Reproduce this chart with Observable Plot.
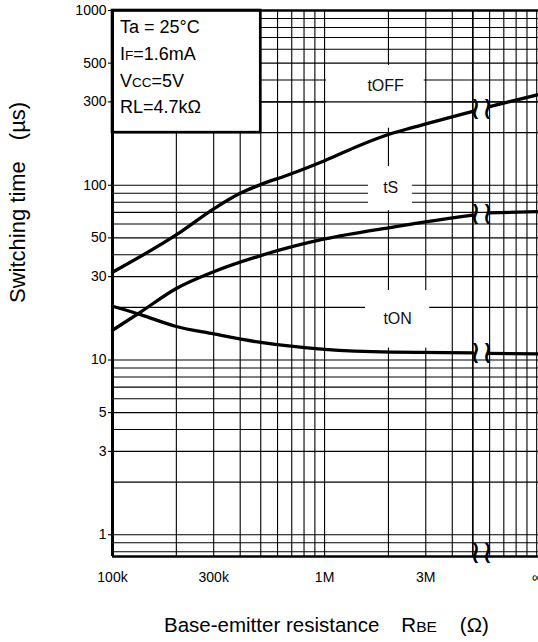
<!DOCTYPE html>
<html><head><meta charset="utf-8">
<script src="https://cdn.jsdelivr.net/npm/d3@7"></script>
<script src="https://cdn.jsdelivr.net/npm/@observablehq/plot@0.6"></script>
<style>
html,body{margin:0;padding:0;background:#fff;overflow:hidden}
svg{display:block}
</style></head><body><div id="chart"></div>
<script>
const FONT = "'Liberation Sans', Arial, Helvetica, sans-serif";

// axis ticks
const xTickValues = [1e5, 3e5, 1e6, 3e6, 1e7];
const xTickLabels = ["100k", "300k", "1M", "3M", "∞"];
const yTickValues = [1, 3, 5, 10, 30, 50, 100, 300, 500, 1000];

// grid
const xGrid = [2e5, 3e5, 4e5, 5e5, 6e5, 7e5, 8e5, 9e5, 1e6, 2e6, 3e6, 4e6, 6e6, 7e6, 8e6, 9e6, 1e7];
const xBreak = 5e6;
const yGrid = [0.8, 0.9, 1, 2, 3, 4, 5, 6, 7, 8, 9, 10, 20, 30, 40, 50, 60, 70, 80, 90, 100, 200, 300, 400, 500, 600, 700, 800, 900];

// series (RBE in ohm, switching time in µs)
const seriesNames = ["tOFF", "tS", "tON"];
const tOffLeftX = [1e5, 2.09e5, 3e5, 4e5, 5e5, 6.67e5, 1e6, 1.48e6, 2.05e6, 2.64e6, 5e6];
const tOffLeftY = [31.8, 53.9, 73.3, 90, 101, 114, 138, 170, 197, 215, 265];
const tOffRightX = [5.95e6, 7.54e6, 1.02e7];
const tOffRightY = [281, 302, 330];

const tSLeftX = [1e5, 1.356e5, 1.98e5, 3e5, 5e5, 1e6, 2.07e6, 5e6];
const tSLeftY = [14.8, 18.8, 25.5, 32, 39.6, 49.3, 57.5, 67.4];
const tSRightX = [5.95e6, 1.02e7];
const tSRightY = [69.5, 70.7];

const tOnLeftX = [1e5, 1.356e5, 1.98e5, 3e5, 5e5, 1e6, 2.07e6, 5e6];
const tOnLeftY = [20.3, 18.2, 15.6, 14.1, 12.6, 11.5, 11.1, 11.0];
const tOnRightX = [5.95e6, 1.02e7];
const tOnRightY = [10.9, 10.85];

// series label anchors (data units)
const labelX = [1.94e6, 2.05e6, 2.21e6];
const labelY = [372, 96.4, 17.2];

// break marks (the "≀≀" on each curve and on the axis)
const breakX = 5.5e6;
const breakY = [273, 68.5, 10.95, 0.79];

// conditions box text
const condLines = [
  [["Ta = 25°C", false]],
  [["I", false], ["F", true], ["=1.6mA", false]],
  [["V", false], ["CC", true], ["=5V", false]],
  [["RL=4.7kΩ", false]]
];

// ---- build tables ----
function seg(name, part, xs, ys) { return xs.map((x, i) => ({series: name, seg: name + part, x, y: ys[i]})); }
const curveRows = [
  ...seg("tOFF", "L", tOffLeftX, tOffLeftY), ...seg("tOFF", "R", tOffRightX, tOffRightY),
  ...seg("tS", "L", tSLeftX, tSLeftY), ...seg("tS", "R", tSRightX, tSRightY),
  ...seg("tON", "L", tOnLeftX, tOnLeftY), ...seg("tON", "R", tOnRightX, tOnRightY)
];
const labelRows = seriesNames.map((n, i) => ({text: n, x: labelX[i], y: labelY[i]}));
const breakRows = breakY.map(y => ({x: breakX, y}));
const yTickRows = yTickValues.map(v => ({v, label: String(v)}));
const xTickRows = xTickValues.map((v, i) => ({v, label: xTickLabels[i]}));

// layout: white knock-outs behind the series labels, and the conditions box
const knockouts = [
  {x1: 1.02e6, x2: 2.95e6, y1: 212, y2: 485},
  {x1: 1.61e6, x2: 2.6e6, y1: 71.5, y2: 128},
  {x1: 1.56e6, x2: 3.13e6, y1: 11.7, y2: 25}
];
const condBox = [{x1: 1e5, x2: 5e5, y1: 200, y2: 1000}];
const yMin = 0.751, yMax = 1000;
const tickStart = 0.957e5; // a few pixels left of the frame

const chart = Plot.plot({
  width: 538, height: 642,
  marginLeft: 112, marginRight: 0, marginTop: 10, marginBottom: 86,
  style: {fontFamily: FONT, color: "#000", background: "#fff", overflow: "visible"},
  x: {type: "log", domain: [1e5, 1.02e7], axis: null},
  y: {type: "log", domain: [yMin, yMax], axis: null},
  marks: [
    Plot.ruleX(xGrid, {stroke: "#000", strokeWidth: 1.1}),
    Plot.ruleY(yGrid, {stroke: "#000", strokeWidth: 1.1}),
    Plot.ruleX([xBreak], {stroke: "#000", strokeWidth: 1.7}),
    Plot.rect(knockouts, {x1: "x1", x2: "x2", y1: "y1", y2: "y2", fill: "#fff"}),
    Plot.ruleY([300], {stroke: "#000", strokeWidth: 1.1}),
    Plot.rect(condBox, {x1: "x1", x2: "x2", y1: "y1", y2: "y2", fill: "#fff", stroke: "#000", strokeWidth: 2.6}),
    Plot.ruleX([1e5], {stroke: "#000", strokeWidth: 3}),
    Plot.ruleY([yMin, yMax], {stroke: "#000", strokeWidth: 2.6}),
    Plot.line(curveRows, {x: "x", y: "y", z: "seg", stroke: "#000", strokeWidth: 3.3, curve: "monotone-x"}),
    Plot.text(breakRows, {x: "x", y: "y", text: () => "≀≀", fontFamily: "DejaVu Sans", fontSize: 32, fill: "#000"}),
    Plot.text(labelRows, {x: "x", y: "y", text: "text", fontSize: 16, fill: "#111"}),
    // y axis: small outward ticks + labels
    Plot.ruleY(yTickRows, {y: "v", x1: tickStart, x2: 1e5, stroke: "#000", strokeWidth: 1.1}),
    Plot.text(yTickRows, {y: "v", frameAnchor: "left", text: "label", textAnchor: "end", dx: -6, fontSize: 14, fill: "#000"}),
    // x axis labels
    Plot.text(xTickRows, {x: "v", frameAnchor: "bottom", text: "label", dy: 25, fontSize: 14, fill: "#000"})
  ]
});
document.getElementById("chart").appendChild(chart);

// ---- text with subscripts ----
const sx = chart.scale("x"), sy = chart.scale("y");
const svg = d3.select(chart);
const condX = sx.apply(1.09e5);
const condBaselines = [738, 517, 362, 257];
condLines.forEach((parts, i) => {
  const t = svg.append("text").attr("x", condX).attr("y", sy.apply(condBaselines[i]))
    .attr("text-anchor", "start")
    .attr("font-family", FONT).attr("font-size", 18).attr("fill", "#000");
  parts.forEach(([s, small]) => t.append("tspan").attr("font-size", small ? 13.5 : 18).text(s));
});

// x axis title
const xt = svg.append("text").attr("x", 164).attr("y", 632).attr("text-anchor", "start")
  .attr("font-family", FONT).attr("font-size", 20.5).attr("fill", "#000");
xt.append("tspan").text("Base-emitter resistance");
xt.append("tspan").attr("dx", 22).text("R");
xt.append("tspan").attr("font-size", 15.5).text("BE");
xt.append("tspan").attr("dx", 23).text("(Ω)");

// y axis title
const yt = svg.append("text").attr("transform", "translate(25,303) rotate(-90)").attr("text-anchor", "start")
  .attr("font-family", FONT).attr("font-size", 22).attr("fill", "#000");
yt.append("tspan").text("Switching time");
yt.append("tspan").attr("dx", 21).text("(µs)");
</script></body></html>
